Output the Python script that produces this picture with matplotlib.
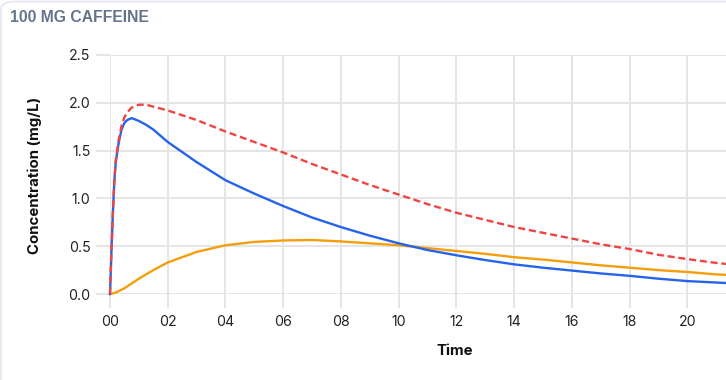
import matplotlib
matplotlib.use("Agg")
import matplotlib.pyplot as plt
from matplotlib.patches import FancyBboxPatch

# Время после приёма (часы)
hours = [0, 0.05, 0.1, 0.15, 0.2, 0.3, 0.4, 0.5, 0.6, 0.75, 1, 1.25, 1.5, 2, 3, 4,
         5, 6, 7, 8, 9, 10, 11, 12, 13, 14, 15, 16, 17, 18, 19, 20, 21, 22]

# Кофеин (синяя линия)
caffeine = [0, 0.45, 0.85, 1.18, 1.38, 1.58, 1.72, 1.79, 1.82, 1.84, 1.81, 1.77,
            1.72, 1.59, 1.38, 1.19, 1.05, 0.92, 0.80, 0.70, 0.61, 0.53, 0.46,
            0.405, 0.355, 0.31, 0.275, 0.245, 0.215, 0.19, 0.16, 0.135, 0.12, 0.105]

# Метаболит (оранжевая линия)
metabolite = [0, 0.002, 0.006, 0.01, 0.016, 0.03, 0.045, 0.06, 0.08, 0.11, 0.16,
              0.205, 0.25, 0.33, 0.44, 0.51, 0.545, 0.56, 0.565, 0.55, 0.53, 0.51,
              0.48, 0.45, 0.42, 0.385, 0.36, 0.33, 0.30, 0.275, 0.25, 0.23, 0.205, 0.19]

# Суммарная концентрация (красный пунктир)
total = [0, 0.45, 0.85, 1.19, 1.40, 1.61, 1.76, 1.85, 1.90, 1.95, 1.98, 1.98,
         1.96, 1.92, 1.82, 1.70, 1.59, 1.48, 1.36, 1.25, 1.14, 1.04, 0.94,
         0.85, 0.775, 0.70, 0.64, 0.58, 0.52, 0.47, 0.41, 0.365, 0.325, 0.295]

y_ticks = [0, 0.5, 1.0, 1.5, 2.0, 2.5]
x_ticks = list(range(0, 22, 2))
x_labels = [f"{h:02d}" for h in x_ticks]

W, H = 726, 380
grid_color = "#e5e5e5"
font = ["Inter", "DejaVu Sans"]

fig = plt.figure(figsize=(W / 100, H / 100), dpi=100)

# рамка карточки (под осями)
card = FancyBboxPatch((1 / W, -0.2), 1.2, 1.2 - 1.5 / H,
                      boxstyle="round,pad=0,rounding_size=0.02",
                      transform=fig.transFigure, facecolor="white",
                      edgecolor="#e2e8f0", linewidth=1.2, zorder=-10)
fig.patches.append(card)

fig.text(10 / W, 1 - 18 / H, "100 MG CAFFEINE", fontsize=11.3, fontweight="bold",
         color="#64748b", family=["Liberation Sans", "DejaVu Sans"], va="center")

# оси выходят за правый край картинки (график обрезан)
left, right, top, bottom = 110, 800, 55, 294
ax = fig.add_axes([left / W, 1 - bottom / H, (right - left) / W, (bottom - top) / H])
ax.set_zorder(5)
ax.set_facecolor("none")

ax.plot(hours, metabolite, color="#f59e0b", lw=1.7, clip_on=False, zorder=3)
ax.plot(hours, caffeine, color="#2563eb", lw=1.7, clip_on=False, zorder=4)
ax.plot(hours, total, color="#ef4444", lw=1.7, dashes=(3, 1.6), clip_on=False, zorder=5)

ax.set_xlim(0, (right - left) / 28.87)
ax.set_ylim(0, 2.5)
ax.set_xticks(x_ticks)
ax.set_xticklabels(x_labels)
ax.set_yticks(y_ticks)
ax.set_yticklabels([f"{v:.1f}" for v in y_ticks])

ax.grid(True, color=grid_color, lw=1.4)
ax.set_axisbelow(True)
for s in ax.spines.values():
    s.set_visible(False)
ax.tick_params(axis="both", length=10, width=1.4, color=grid_color,
               labelsize=10.2, labelcolor="#222222")
ax.tick_params(axis="y", pad=4)
ax.tick_params(axis="x", pad=5)
for lab in ax.get_xticklabels() + ax.get_yticklabels():
    lab.set_family(font)

fig.text(35 / W, 1 - 175 / H, "Concentration (mg/L)", rotation=90, fontsize=10.8,
         fontweight="bold", family=font, ha="center", va="center", color="#111111")
fig.text(455 / W, 1 - 351 / H, "Time", fontsize=10.8, fontweight="bold",
         family=font, ha="center", va="center", color="#111111")

fig.savefig("out.png", dpi=100)
